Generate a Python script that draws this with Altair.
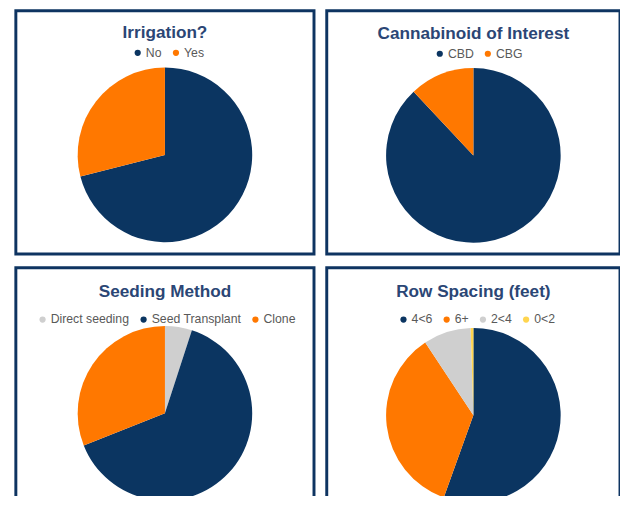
import altair as alt
import pandas as pd

# ---- data ----
irr_cats = ["No", "Yes"]
irr_vals = [71, 29]

can_cats = ["CBD", "CBG"]
can_vals = [88, 12]

seed_cats = ["Direct seeding", "Seed Transplant", "Clone"]
seed_vals = [5, 64, 31]

row_cats = ["4<6", "6+", "2<4", "0<2"]
row_vals = [55.5, 35.2, 8.8, 0.5]

titles = ["Irrigation?", "Cannabinoid of Interest", "Seeding Method", "Row Spacing (feet)"]

NAVY = "#0b3561"
ORANGE = "#ff7800"
GRAY = "#cfcfcf"
YELLOW = "#ffd54f"
TITLE_C = "#2b4675"
BORDER = "#0e3461"


def panel(title, cats, vals, colors, w, h, title_y, legend_x, legend_y, pie_y, radius=89):
    df = pd.DataFrame({"cat": cats, "val": vals, "ord": list(range(len(cats)))})
    pie = (
        alt.Chart(df)
        .mark_arc(radius=radius)
        .encode(
            theta=alt.Theta("val:Q", stack=True),
            color=alt.Color(
                "cat:N",
                sort=cats,
                scale=alt.Scale(domain=cats, range=colors),
                legend=alt.Legend(
                    title=None,
                    orient="none",
                    legendX=legend_x,
                    legendY=legend_y,
                    direction="horizontal",
                    symbolType="circle",
                    symbolSize=40,
                    symbolStrokeWidth=0,
                    labelFont="Liberation Sans",
                    labelFontSize=12.5,
                    labelColor="#595959",
                    labelOffset=2,
                    columnPadding=8,
                    padding=0,
                ),
            ),
            order=alt.Order("ord:Q"),
            x=alt.value(w / 2),
            y=alt.value(pie_y),
        )
    )
    head = (
        alt.Chart(pd.DataFrame({"t": [title]}))
        .mark_text(
            font="Liberation Sans",
            fontSize=17.5,
            fontWeight="bold",
            color=TITLE_C,
            align="center",
            baseline="middle",
        )
        .encode(text="t:N", x=alt.value(w / 2), y=alt.value(title_y))
    )
    return alt.layer(pie, head).properties(width=w, height=h)


p1 = panel(titles[0], irr_cats, irr_vals, [NAVY, ORANGE], 304, 248, 23, 118, 36.5, 147)
p2 = panel(titles[1], can_cats, can_vals, [NAVY, ORANGE], 299, 248, 23.5, 109, 37.5, 147.5)
p3 = panel(titles[2], seed_cats, seed_vals, [GRAY, NAVY, ORANGE], 304, 248, 24.5, 21, 46.5, 148.5)
p4 = panel(titles[3], row_cats, row_vals, [NAVY, ORANGE, GRAY, YELLOW], 299, 248, 24.5, 72, 46.5, 150.5)

top = alt.hconcat(p1, p2, spacing=9).resolve_scale(color="independent")
bottom = alt.hconcat(p3, p4, spacing=9).resolve_scale(color="independent")

chart = (
    alt.vconcat(top, bottom, spacing=10)
    .resolve_scale(color="independent")
    .properties(padding={"left": 6, "top": -4, "right": -2, "bottom": -22.5}, background="white")
    .configure_view(stroke=BORDER, strokeWidth=3, fill="white")
)

chart.save("out.html", embed_options={"renderer": "svg", "actions": False})
